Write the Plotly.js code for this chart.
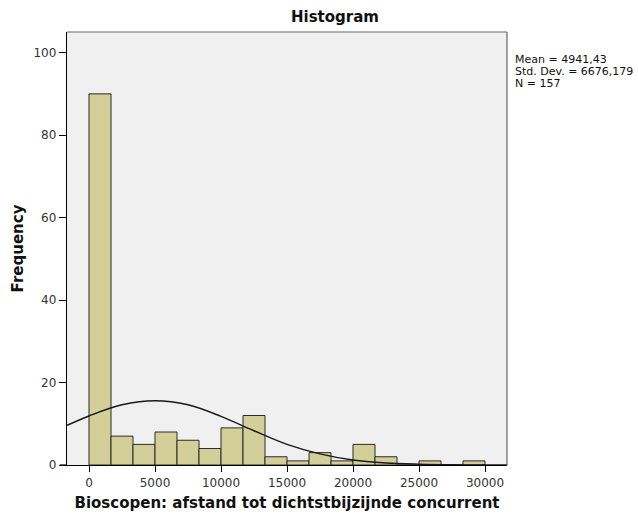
<!DOCTYPE html>
<html>
<head>
<meta charset="utf-8">
<script src="https://cdn.plot.ly/plotly-3.0.1.min.js"></script>
<style>html,body{margin:0;padding:0;background:#fff;}#chart{width:638px;height:515px;}</style>
</head>
<body>
<div id="chart"></div>
<script>
// Histogram bins (left edges) and frequencies
const binWidth = 1666.67;
const binStarts = [0, 1666.67, 3333.33, 5000, 6666.67, 8333.33, 10000, 11666.67, 13333.33,
  15000, 16666.67, 18333.33, 20000, 21666.67, 23333.33, 25000, 26666.67, 28333.33];
const counts = [90, 7, 5, 8, 6, 4, 9, 12, 2, 1, 3, 1, 5, 2, 0, 1, 0, 1];

// Normal curve
const curveX = [-1667, 0, 2500, 5000, 7500, 10000, 12500, 15000, 17500, 20000, 22500, 25000, 27500, 30000, 31667];
const curveY = [9.6, 11.9, 14.6, 15.6, 14.6, 11.8, 8.3, 5.0, 2.7, 1.2, 0.5, 0.2, 0.05, 0.01, 0.0];

const xTicks = [0, 5000, 10000, 15000, 20000, 25000, 30000];
const yTicks = [0, 20, 40, 60, 80, 100];
const statsLines = ["Mean = 4941,43", "Std. Dev. = 6676,179", "N = 157"];

const barCenters = binStarts.map(s => s + binWidth / 2);

const traces = [
  {
    type: 'bar',
    x: barCenters,
    y: counts,
    width: binWidth,
    marker: {color: '#D3CF99', line: {color: '#2b2b2b', width: 1}},
    hoverinfo: 'x+y'
  },
  {
    type: 'scatter',
    mode: 'lines',
    x: curveX,
    y: curveY,
    line: {color: '#1a1a1a', width: 1.5, shape: 'spline'},
    hoverinfo: 'skip'
  }
];

const font = "DejaVu Sans, Arial, sans-serif";

const annotations = statsLines.map((t, i) => ({
  text: t, xref: 'paper', yref: 'paper',
  x: 1.014, xanchor: 'left',
  y: (515 - 50 - (59 + i * 12.5)) / 433, yanchor: 'middle',
  showarrow: false,
  font: {family: font, size: 11, color: '#111'}
}));

const layout = {
  width: 638, height: 515,
  margin: {l: 67, r: 131, t: 32, b: 50},
  paper_bgcolor: '#ffffff',
  plot_bgcolor: '#F0F0F0',
  showlegend: false,
  bargap: 0,
  title: {
    text: '<b>Histogram</b>',
    font: {family: font, size: 15, color: '#111'},
    x: 335 / 638, xanchor: 'center',
    y: 1 - 17 / 515, yanchor: 'middle'
  },
  xaxis: {
    range: [-1667, 31667],
    tickvals: xTicks,
    ticktext: xTicks.map(String),
    ticks: 'outside', ticklen: 6, tickcolor: '#000', tickwidth: 1,
    showline: true, linecolor: '#000', linewidth: 1.2,
    showgrid: false, zeroline: false,
    tickfont: {family: font, size: 12, color: '#333'},
    title: {
      text: '<b>Bioscopen: afstand tot dichtstbijzijnde concurrent</b>',
      font: {family: font, size: 15, color: '#111'},
      standoff: 9
    },
    automargin: false
  },
  yaxis: {
    range: [0, 105],
    tickvals: yTicks,
    ticks: 'outside', ticklen: 7, tickcolor: '#000', tickwidth: 1,
    showline: true, linecolor: '#000', linewidth: 1.2,
    showgrid: false, zeroline: false,
    tickfont: {family: font, size: 12, color: '#333'},
    title: {
      text: '<b>Frequency</b>',
      font: {family: font, size: 15, color: '#111'},
      standoff: 6
    },
    automargin: false
  },
  shapes: [
    {type: 'line', xref: 'paper', yref: 'paper', x0: 0, x1: 1, y0: 1, y1: 1, line: {color: '#666', width: 1.2}},
    {type: 'line', xref: 'paper', yref: 'paper', x0: 1, x1: 1, y0: 0, y1: 1, line: {color: '#666', width: 1.2}},
    {type: 'line', xref: 'paper', yref: 'paper', x0: -0.016, x1: 0, y0: 0, y1: 0, line: {color: '#000', width: 1.2}}
  ],
  annotations: annotations
};

Plotly.newPlot('chart', traces, layout, {displayModeBar: false, staticPlot: true});
</script>
</body>
</html>
